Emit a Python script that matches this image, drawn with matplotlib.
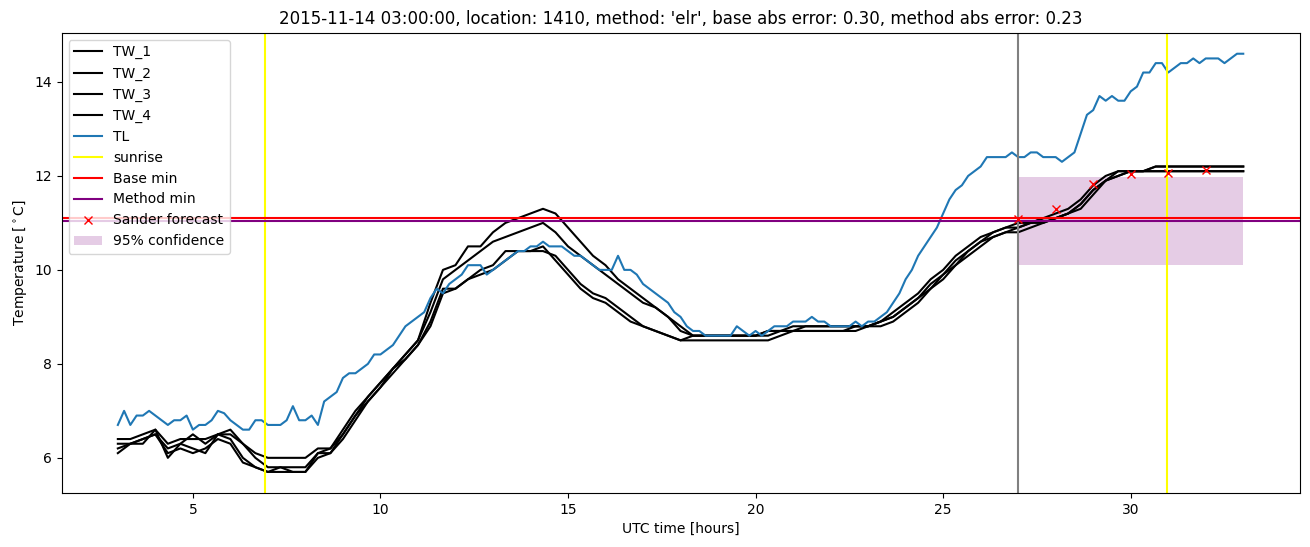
import numpy as np
import matplotlib
matplotlib.use("Agg")
import matplotlib.pyplot as plt


# TL (air temperature), 10 minute steps from 03:00 (hour 3) to hour 33
tl_values = [
    6.7, 7.0, 6.7, 6.9, 6.9, 7.0,
    6.9, 6.8, 6.7, 6.8, 6.8, 6.9,
    6.6, 6.7, 6.7, 6.8, 7.0, 6.95,
    6.8, 6.7, 6.6, 6.6, 6.8, 6.8,
    6.7, 6.7, 6.7, 6.8, 7.1, 6.8,
    6.8, 6.9, 6.7, 7.2, 7.3, 7.4,
    7.7, 7.8, 7.8, 7.9, 8.0, 8.2,
    8.2, 8.3, 8.4, 8.6, 8.8, 8.9,
    9.0, 9.1, 9.4, 9.6, 9.5, 9.7,
    9.8, 9.9, 10.1, 10.1, 10.1, 9.9,
    10.0, 10.1, 10.2, 10.3, 10.4, 10.4,
    10.5, 10.5, 10.6, 10.5, 10.5, 10.5,
    10.4, 10.3, 10.3, 10.2, 10.1, 10.0,
    10.0, 10.0, 10.3, 10.0, 10.0, 9.9,
    9.7, 9.6, 9.5, 9.4, 9.3, 9.1,
    9.0, 8.8, 8.7, 8.7, 8.6, 8.6,
    8.6, 8.6, 8.6, 8.8, 8.7, 8.6,
    8.7, 8.6, 8.7, 8.8, 8.8, 8.8,
    8.9, 8.9, 8.9, 9.0, 8.9, 8.9,
    8.8, 8.8, 8.8, 8.8, 8.9, 8.8,
    8.9, 8.9, 9.0, 9.1, 9.3, 9.5,
    9.8, 10.0, 10.3, 10.5, 10.7, 10.9,
    11.2, 11.5, 11.7, 11.8, 12.0, 12.1,
    12.2, 12.4, 12.4, 12.4, 12.4, 12.5,
    12.4, 12.4, 12.5, 12.5, 12.4, 12.4,
    12.4, 12.3, 12.4, 12.5, 12.9, 13.3,
    13.4, 13.7, 13.6, 13.7, 13.6, 13.6,
    13.8, 13.9, 14.2, 14.2, 14.4, 14.4,
    14.2, 14.3, 14.4, 14.4, 14.5, 14.4,
    14.5, 14.5, 14.5, 14.4, 14.5, 14.6,
    14.6,
]

# TW_1..TW_4 (water temperature sensors), 20 minute steps from hour 3 to 33
tw_1 = [
    6.4, 6.4, 6.5, 6.6, 6.3, 6.4, 6.4, 6.4, 6.5, 6.6, 6.3, 6.1,
    6.0, 6.0, 6.0, 6.0, 6.2, 6.2, 6.6, 7.0, 7.3, 7.6, 7.9, 8.2,
    8.5, 9.3, 10.0, 10.1, 10.5, 10.5, 10.8, 11.0, 11.1, 11.2, 11.3, 11.2,
    10.9, 10.6, 10.3, 10.1, 9.8, 9.6, 9.4, 9.2, 9.0, 8.8, 8.6, 8.6,
    8.6, 8.6, 8.6, 8.6, 8.7, 8.7, 8.8, 8.8, 8.8, 8.8, 8.8, 8.8,
    8.8, 8.9, 9.1, 9.3, 9.5, 9.8, 10.0, 10.3, 10.5, 10.7, 10.8, 10.9,
    11.0, 11.0, 11.1, 11.2, 11.3, 11.5, 11.8, 12.0, 12.1, 12.1, 12.1, 12.2,
    12.2, 12.2, 12.2, 12.2, 12.2, 12.2, 12.2,
]
tw_2 = [
    6.3, 6.3, 6.4, 6.5, 6.2, 6.3, 6.5, 6.3, 6.5, 6.5, 6.3, 6.0,
    5.8, 5.8, 5.8, 5.8, 6.1, 6.2, 6.5, 6.9, 7.3, 7.6, 7.9, 8.2,
    8.5, 9.1, 9.8, 10.0, 10.2, 10.4, 10.6, 10.7, 10.8, 10.9, 11.0, 10.8,
    10.5, 10.3, 10.1, 9.9, 9.7, 9.5, 9.3, 9.2, 9.0, 8.7, 8.6, 8.6,
    8.6, 8.6, 8.6, 8.6, 8.6, 8.7, 8.7, 8.8, 8.8, 8.8, 8.8, 8.8,
    8.8, 8.9, 9.0, 9.2, 9.4, 9.7, 9.9, 10.2, 10.4, 10.6, 10.8, 10.9,
    10.9, 11.0, 11.1, 11.1, 11.2, 11.4, 11.7, 11.9, 12.1, 12.1, 12.1, 12.2,
    12.2, 12.2, 12.2, 12.2, 12.2, 12.2, 12.2,
]
tw_3 = [
    6.2, 6.3, 6.3, 6.6, 6.0, 6.3, 6.2, 6.1, 6.5, 6.4, 6.0, 5.8,
    5.7, 5.8, 5.7, 5.7, 6.1, 6.1, 6.5, 6.9, 7.2, 7.5, 7.9, 8.1,
    8.4, 8.9, 9.6, 9.6, 9.8, 10.0, 10.1, 10.4, 10.4, 10.4, 10.4, 10.3,
    10.0, 9.7, 9.5, 9.4, 9.2, 9.0, 8.8, 8.7, 8.6, 8.5, 8.5, 8.5,
    8.5, 8.5, 8.5, 8.5, 8.5, 8.6, 8.7, 8.7, 8.7, 8.7, 8.7, 8.7,
    8.8, 8.8, 8.9, 9.1, 9.3, 9.6, 9.8, 10.1, 10.3, 10.5, 10.7, 10.8,
    10.8, 10.9, 11.0, 11.1, 11.2, 11.3, 11.6, 11.9, 12.0, 12.1, 12.1, 12.1,
    12.1, 12.1, 12.1, 12.1, 12.1, 12.1, 12.1,
]
tw_4 = [
    6.1, 6.3, 6.4, 6.5, 6.1, 6.2, 6.1, 6.2, 6.4, 6.3, 5.9, 5.8,
    5.7, 5.7, 5.7, 5.7, 6.0, 6.1, 6.4, 6.8, 7.2, 7.5, 7.8, 8.1,
    8.4, 8.8, 9.5, 9.6, 9.8, 9.9, 10.0, 10.2, 10.4, 10.4, 10.5, 10.2,
    9.9, 9.6, 9.4, 9.3, 9.1, 8.9, 8.8, 8.7, 8.6, 8.5, 8.6, 8.6,
    8.6, 8.6, 8.6, 8.6, 8.7, 8.7, 8.7, 8.7, 8.7, 8.7, 8.7, 8.8,
    8.8, 8.9, 9.0, 9.2, 9.4, 9.6, 9.9, 10.1, 10.4, 10.6, 10.7, 10.8,
    10.9, 11.0, 11.0, 11.1, 11.2, 11.4, 11.7, 11.9, 12.0, 12.1, 12.1, 12.1,
    12.1, 12.1, 12.1, 12.1, 12.1, 12.1, 12.1,
]

sunrise_hours = [6.92, 30.97]
forecast_start = 27.0
base_min = 11.11
method_min = 11.04

sander_hours = [27, 28, 29, 30, 31, 32]
sander_values = [11.09, 11.29, 11.82, 12.05, 12.07, 12.12]

conf_hours = [27, 33]
conf_low = 10.11
conf_high = 11.97

title = ("2015-11-14 03:00:00, location: 1410, method: 'elr', "
         "base abs error: 0.30, method abs error: 0.23")


t_tl = 3 + np.arange(len(tl_values)) / 6.0
t_tw = 3 + np.arange(len(tw_1)) / 3.0

fig = plt.figure(figsize=(13.1, 5.47), dpi=100)
ax = fig.add_subplot(111)
fig.subplots_adjust(left=0.047, right=0.992, bottom=0.099, top=0.94)

for name, vals in zip(["TW_1", "TW_2", "TW_3", "TW_4"], [tw_1, tw_2, tw_3, tw_4]):
    ax.plot(t_tw, vals, color="black", label=name)
ax.plot(t_tl, tl_values, label="TL")

# sunrise lines, only the first one in the legend
for i, h in enumerate(sunrise_hours):
    ax.axvline(h, color="yellow", label="sunrise" if i == 0 else None)
ax.axvline(forecast_start, color="grey")

ax.axhline(base_min, color="red", label="Base min")
ax.axhline(method_min, color="purple", label="Method min")

ax.plot(sander_hours, sander_values, "x", color="red", label="Sander forecast")
ax.fill_between(conf_hours, conf_low, conf_high, color="purple", alpha=0.2,
                linewidth=0, label="95% confidence")

ax.set_title(title)
ax.set_xlabel("UTC time [hours]")
ax.set_ylabel("Temperature [$^\\circ$C]")
ax.legend(loc="upper left")

plt.savefig("out.png")
